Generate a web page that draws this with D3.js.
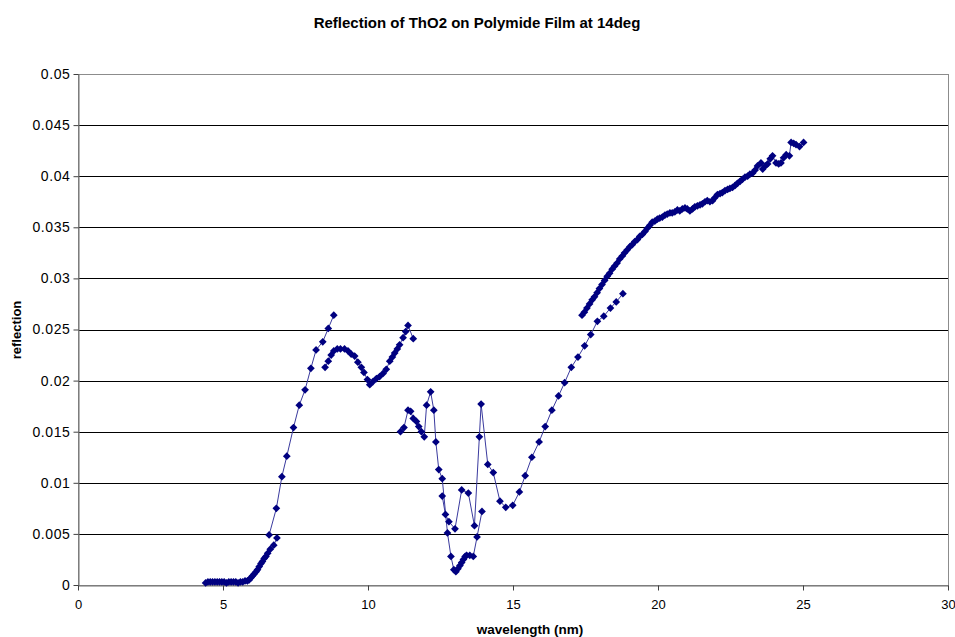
<!DOCTYPE html>
<html>
<head>
<meta charset="utf-8">
<script src="https://cdn.jsdelivr.net/npm/d3@7"></script>
<style>
  html, body { margin: 0; padding: 0; background: #ffffff; }
  svg { display: block; }
  text { font-family: "Liberation Sans", Arial, sans-serif; fill: #000; }
</style>
</head>
<body>
<svg id="chart" width="955" height="637"></svg>
<script>
// Reflection measurements, one array per scan: [wavelength (nm), reflection]
const scan1 = [
  [4.40,0.0002],[4.48,0.0003],[4.56,0.0003],[4.64,0.0003],[4.72,0.0003],[4.80,0.0003],
  [4.88,0.0003],[4.96,0.0003],[5.04,0.0003],[5.12,0.0002],[5.20,0.0003],[5.28,0.0003],
  [5.36,0.0003],[5.44,0.0003],[5.52,0.0002],[5.60,0.0003],[5.68,0.0003],[5.76,0.0004],
  [5.84,0.0004],[5.90,0.0005],[5.96,0.0007],[6.02,0.0009],[6.08,0.0011],[6.14,0.0013],
  [6.19,0.0015],[6.25,0.0018],[6.31,0.0021],[6.36,0.0023],[6.42,0.0026],[6.48,0.0028],
  [6.54,0.0031],[6.63,0.0035],[6.75,0.0039],[6.86,0.0046]
];
const scan2 = [
  [6.59,0.0049],[6.84,0.0075],[7.03,0.0106],[7.20,0.0126],[7.43,0.0154],[7.63,0.0176],
  [7.83,0.0191],[8.03,0.0212],[8.21,0.0230],[8.44,0.0238],[8.63,0.0251],[8.82,0.0264]
];
const scan3 = [
  [8.52,0.0213],[8.63,0.0219],[8.73,0.0225],[8.82,0.0229],[8.94,0.0231],[9.05,0.0231],
  [9.19,0.0231],[9.31,0.0229],[9.42,0.0226],[9.54,0.0224],[9.65,0.0218],[9.77,0.0213],
  [9.86,0.0208],[9.98,0.0201],[10.06,0.0196],[10.17,0.0199],[10.29,0.0202],[10.40,0.0204],
  [10.52,0.0207],[10.63,0.0211],[10.75,0.0219],[10.84,0.0223],[10.92,0.0227],[11.01,0.0231],
  [11.09,0.0235],[11.21,0.0242],[11.30,0.0248],[11.38,0.0254],[11.56,0.0241]
];
const scan4 = [
  [11.12,0.0150],[11.24,0.0154],[11.38,0.0171],[11.47,0.0170],[11.56,0.0163],[11.67,0.0160],
  [11.75,0.0155],[11.84,0.0150],[11.94,0.0145],[12.02,0.0176],[12.16,0.0189],[12.27,0.0171],
  [12.34,0.0140],[12.44,0.0113],[12.56,0.0104],[12.74,0.0051],[12.86,0.0028],[12.96,0.0015],
  [13.03,0.0013],[13.10,0.0016],[13.17,0.0019],[13.23,0.0022],[13.29,0.0025],[13.35,0.0028],
  [13.40,0.0029],[13.51,0.0029],[13.63,0.0028],[13.76,0.0047],[13.93,0.0072]
];
const scan5 = [
  [12.56,0.0087],[12.67,0.0069],[12.79,0.0062],[13.00,0.0055],[13.23,0.0093],[13.46,0.0090],
  [13.67,0.0058],[13.84,0.0145],[13.90,0.0177],[14.13,0.0118],[14.32,0.0110],[14.55,0.0082],
  [14.75,0.0076],[14.99,0.0078],[15.22,0.0091],[15.42,0.0107],[15.65,0.0125],[15.90,0.0140],
  [16.11,0.0155],[16.34,0.0171],[16.57,0.0185],[16.78,0.0198],[17.01,0.0213],[17.24,0.0223],
  [17.47,0.0234],[17.68,0.0245],[17.91,0.0258],[18.13,0.0263],[18.36,0.0271],[18.56,0.0277],
  [18.79,0.0285]
];
const scan6 = [
  [17.38,0.0264],[17.46,0.0267],[17.55,0.0271],[17.64,0.0275],[17.73,0.0279],[17.81,0.0282],
  [17.90,0.0286],[17.98,0.0290],[18.07,0.0294],[18.16,0.0298],[18.25,0.0302],[18.33,0.0305],
  [18.42,0.0309],[18.50,0.0312],[18.59,0.0315],[18.68,0.0319],[18.77,0.0322],[18.85,0.0325],
  [18.94,0.0328],[19.03,0.0331],[19.11,0.0333],[19.20,0.0336],[19.29,0.0338],[19.37,0.0341],
  [19.46,0.0343],[19.55,0.0346],[19.63,0.0349],[19.72,0.0352],[19.80,0.0355],[19.89,0.0356],
  [19.98,0.0358],[20.06,0.0359],[20.15,0.0360],[20.24,0.0362],[20.32,0.0363],[20.41,0.0364],
  [20.49,0.0364],[20.58,0.0365],[20.67,0.0367],[20.75,0.0366],[20.84,0.0368],[20.93,0.0369],
  [21.01,0.0368],[21.10,0.0366],[21.19,0.0368],[21.27,0.0370],[21.36,0.0371],[21.45,0.0372],
  [21.53,0.0373],[21.62,0.0375],[21.70,0.0376],[21.79,0.0375],[21.88,0.0376],[21.96,0.0379],
  [22.05,0.0382],[22.14,0.0383],[22.22,0.0384],[22.31,0.0386],[22.40,0.0387],[22.48,0.0388],
  [22.57,0.0389],[22.66,0.0391],[22.74,0.0393],[22.83,0.0395],[22.91,0.0397],[23.00,0.0399],
  [23.09,0.0400],[23.17,0.0402],[23.26,0.0403],[23.35,0.0406],[23.43,0.0410],[23.55,0.0413],
  [23.61,0.0407],[23.70,0.0410],[23.78,0.0412],[23.87,0.0417],[23.95,0.0420],[24.07,0.0413],
  [24.16,0.0412],[24.24,0.0413],[24.33,0.0418],[24.42,0.0421],[24.53,0.0420],[24.59,0.0433],
  [24.68,0.0432],[24.76,0.0431],[24.88,0.0429],[25.02,0.0433]
];

const xTicks = [0, 5, 10, 15, 20, 25, 30];
const xTickLabels = ["0", "5", "10", "15", "20", "25", "30"];
const yTicks = [0, 0.005, 0.01, 0.015, 0.02, 0.025, 0.03, 0.035, 0.04, 0.045, 0.05];
const yTickLabels = ["0", "0.005", "0.01", "0.015", "0.02", "0.025", "0.03", "0.035", "0.04", "0.045", "0.05"];

const titleText = "Reflection of ThO2 on Polymide Film at 14deg";
const xTitle = "wavelength (nm)";
const yTitle = "reflection";

const scans = [scan1, scan2, scan3, scan4, scan5, scan6];

// Layout
const plot = { left: 78, right: 948, top: 74, bottom: 585 };
const svg = d3.select("#chart");

const x = d3.scaleLinear().domain([0, 30]).range([plot.left, plot.right]);
const y = d3.scaleLinear().domain([0, 0.05]).range([plot.bottom, plot.top]);

// Horizontal gridlines
svg.append("g")
  .selectAll("line")
  .data(yTicks.filter(d => d > 0 && d < 0.05))
  .join("line")
  .attr("x1", plot.left).attr("x2", plot.right)
  .attr("y1", d => Math.round(y(d)) + 0.5).attr("y2", d => Math.round(y(d)) + 0.5)
  .attr("stroke", "#000").attr("stroke-width", 1);

// Plot area frame
svg.append("rect")
  .attr("x", plot.left + 0.5).attr("y", plot.top + 0.5)
  .attr("width", plot.right - plot.left).attr("height", plot.bottom - plot.top)
  .attr("fill", "none").attr("stroke", "#8c8c8c").attr("stroke-width", 1);

// Axes
const xAxis = d3.axisBottom(x)
  .tickValues(xTicks)
  .tickFormat((d, i) => xTickLabels[i])
  .tickSizeInner(5).tickSizeOuter(0).tickPadding(9);
const gx = svg.append("g")
  .attr("transform", `translate(0,${plot.bottom + 0.5})`)
  .call(xAxis);

const yAxis = d3.axisLeft(y)
  .tickValues(yTicks)
  .tickFormat((d, i) => yTickLabels[i])
  .tickSizeInner(5).tickSizeOuter(0).tickPadding(3);
const gy = svg.append("g")
  .attr("transform", `translate(${plot.left + 0.5},0)`)
  .call(yAxis);

[gx, gy].forEach(g => {
  g.select(".domain").attr("stroke", "#6e6e6e");
  g.selectAll(".tick line").attr("stroke", "#404040");
  g.selectAll(".tick text")
    .style("font-family", "'Liberation Sans', Arial, sans-serif")
    .attr("fill", "#000");
});
gy.selectAll(".tick text").style("font-size", "14px").style("letter-spacing", "0.6px");
gx.selectAll(".tick text").style("font-size", "13px");

// Series lines and markers
const line = d3.line().x(d => x(d[0])).y(d => y(d[1]));
const marker = d3.symbol().type(d3.symbolSquare).size(30);

const gData = svg.append("g");
scans.forEach(scan => {
  gData.append("path")
    .datum(scan)
    .attr("d", line)
    .attr("fill", "none")
    .attr("stroke", "#3a3a9e")
    .attr("stroke-width", 1);
});
scans.forEach(scan => {
  gData.append("g")
    .selectAll("path")
    .data(scan)
    .join("path")
    .attr("d", marker)
    .attr("transform", d => `translate(${x(d[0])},${y(d[1])}) rotate(45)`)
    .attr("fill", "#000080");
});

// Titles
svg.append("text")
  .attr("x", 477).attr("y", 28)
  .attr("text-anchor", "middle")
  .style("font-size", "15px").style("font-weight", "bold")
  .text(titleText);

svg.append("text")
  .attr("x", 530).attr("y", 634)
  .attr("text-anchor", "middle")
  .style("font-size", "13.5px").style("font-weight", "bold")
  .text(xTitle);

svg.append("text")
  .attr("transform", `translate(21,330) rotate(-90)`)
  .attr("text-anchor", "middle")
  .style("font-size", "13px").style("font-weight", "bold")
  .text(yTitle);
</script>
</body>
</html>
